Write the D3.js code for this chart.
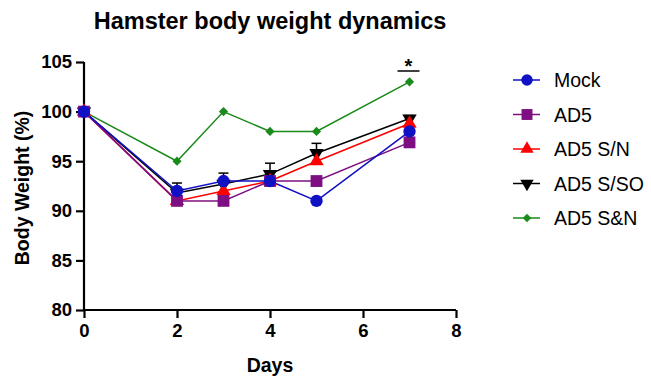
<!DOCTYPE html>
<html>
<head>
<meta charset="utf-8">
<script src="https://cdn.jsdelivr.net/npm/d3@7"></script>
<style>
  body { margin: 0; background: #fff; }
  text { font-family: "Liberation Sans", Arial, sans-serif; }
</style>
</head>
<body>
<div id="chart"></div>
<script>
// data
var days = [0, 2, 3, 4, 5, 7];
var groups = ["Mock", "AD5", "AD5 S/N", "AD5 S/SO", "AD5 S&N"];
var mock = [100, 92, 93, 93, 91, 98];
var ad5 = [100, 91, 91, 93, 93, 96.9];
var ad5SN = [100, 91, 92, 93, 95, 98.8];
var ad5SSO = [100, 91.8, 92.7, 93.7, 95.8, 99.3];
var ad5SSOerr = [0, 1.0, 1.1, 1.1, 1.0, 0.3];
var ad5SandN = [100, 95, 100, 98, 98, 103];
var xTicks = [0, 2, 4, 6, 8];
var yTicks = [80, 85, 90, 95, 100, 105];

var width = 651, height = 378;
var colors = ["#1010c4", "#7d0f82", "#ff0000", "#000000", "#1a8a1a"];
var symbols = [d3.symbolCircle, d3.symbolSquare, d3.symbolTriangle, d3.symbolTriangle, d3.symbolSquare];
var symSize = [120, 140, 90, 90, 42];
var rotate = [0, 0, 0, 180, 45];
var series = [mock, ad5, ad5SN, ad5SSO, ad5SandN];

var svg = d3.select("#chart").append("svg")
    .attr("width", width)
    .attr("height", height);

var x = d3.scaleLinear().domain([0, 8]).range([84, 456]);
var y = d3.scaleLinear().domain([80, 105]).range([310, 62]);

// title
svg.append("text")
    .attr("x", 270).attr("y", 29)
    .attr("text-anchor", "middle")
    .style("font-size", "23.5px")
    .style("font-weight", "bold")
    .text("Hamster body weight dynamics");

// axes
var xAxis = svg.append("g")
    .attr("transform", "translate(0,310)")
    .call(d3.axisBottom(x).tickValues(xTicks).tickSize(8).tickPadding(6).tickFormat(d3.format("d")));
var yAxis = svg.append("g")
    .attr("transform", "translate(84,0)")
    .call(d3.axisLeft(y).tickValues(yTicks).tickSize(8).tickPadding(4).tickFormat(d3.format("d")));

[xAxis, yAxis].forEach(function(a) {
    a.select(".domain").attr("stroke-width", 2.2).attr("stroke", "#000");
    a.selectAll(".tick line").attr("stroke-width", 2.2).attr("stroke", "#000");
    a.selectAll(".tick text")
        .style("font-size", "18.5px")
        .style("font-weight", "bold")
        .style("font-family", "'Liberation Sans', Arial, sans-serif")
        .attr("fill", "#000");
});
xAxis.select(".domain").attr("d", "M84,0H456");
yAxis.select(".domain").attr("d", "M0,62V310");

svg.append("text")
    .attr("x", 270).attr("y", 372)
    .attr("text-anchor", "middle")
    .style("font-size", "19.5px")
    .style("font-weight", "bold")
    .text("Days");

svg.append("text")
    .attr("transform", "translate(29,188) rotate(-90)")
    .attr("text-anchor", "middle")
    .style("font-size", "19.5px")
    .style("font-weight", "bold")
    .text("Body Weight (%)");

// error bars (AD5 S/SO, upper only)
var eb = svg.append("g");
days.forEach(function(d, i) {
    if (ad5SSOerr[i] <= 0) return;
    var top = ad5SSO[i] + ad5SSOerr[i];
    eb.append("line")
        .attr("x1", x(d)).attr("x2", x(d))
        .attr("y1", y(ad5SSO[i])).attr("y2", y(top))
        .attr("stroke", "#000").attr("stroke-width", 1.5);
    eb.append("line")
        .attr("x1", x(d) - 5).attr("x2", x(d) + 5)
        .attr("y1", y(top)).attr("y2", y(top))
        .attr("stroke", "#000").attr("stroke-width", 1.5);
});

var line = d3.line()
    .x(function(d, i) { return x(days[i]); })
    .y(function(d) { return y(d); });

var drawOrder = [4, 3, 2, 1, 0];
drawOrder.forEach(function(k) {
    svg.append("path")
        .datum(series[k])
        .attr("d", line)
        .attr("fill", "none")
        .attr("stroke", colors[k])
        .attr("stroke-width", 1.5);
});
drawOrder.forEach(function(k) {
    svg.selectAll(null)
        .data(series[k])
        .enter()
        .append("path")
        .attr("d", d3.symbol().type(symbols[k]).size(symSize[k]))
        .attr("transform", function(d, i) {
            return "translate(" + x(days[i]) + "," + y(d) + ") rotate(" + rotate[k] + ")";
        })
        .attr("fill", colors[k]);
});

// significance mark at day 7
svg.append("line")
    .attr("x1", x(7) - 12).attr("x2", x(7) + 10)
    .attr("y1", 71).attr("y2", 71)
    .attr("stroke", "#000").attr("stroke-width", 1.5);
svg.append("text")
    .attr("x", x(7) - 1).attr("y", 73)
    .attr("text-anchor", "middle")
    .style("font-size", "20px")
    .style("font-weight", "bold")
    .text("*");

// legend
var legend = svg.append("g");
groups.forEach(function(g, k) {
    var ly = 80 + k * 34.5;
    legend.append("line")
        .attr("x1", 513).attr("x2", 540)
        .attr("y1", ly).attr("y2", ly)
        .attr("stroke", colors[k]).attr("stroke-width", 1.5);
    legend.append("path")
        .attr("d", d3.symbol().type(symbols[k]).size(symSize[k] * 0.85))
        .attr("transform", "translate(527," + ly + ") rotate(" + rotate[k] + ")")
        .attr("fill", colors[k]);
    legend.append("text")
        .attr("x", 554).attr("y", ly + 7)
        .style("font-size", "19.5px")
        .text(g);
});
</script>
</body>
</html>
